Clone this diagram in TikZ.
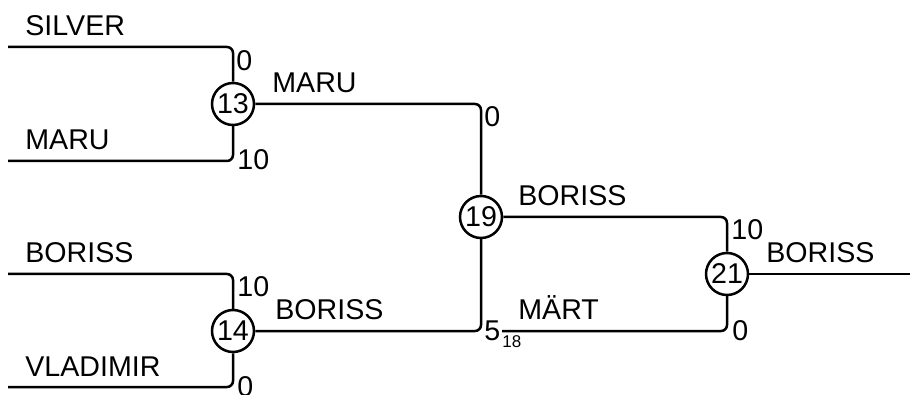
\documentclass[tikz,border=0pt]{standalone}
\usepackage{fontspec}
\setmainfont{Liberation Sans}
\usetikzlibrary{positioning}

\begin{document}
\begin{tikzpicture}[
  x=0.5pt, y=-0.5pt,
  font=\fontsize{14.3}{17}\selectfont,
  match/.style={draw, circle, line width=1.25pt, minimum size=21pt, inner sep=0pt},
  player/.style={anchor=base west, inner sep=0pt},
  score/.style={inner sep=0pt},
  small/.style={score, font=\fontsize{8.5}{10}\selectfont},
  link/.style={line width=1.25pt, rounded corners=3pt}
]
\useasboundingbox (0,0) rectangle (910,395);
% matches
\node[match] (m13) at (233,104) {13};
\node[match] (m14) at (233,331) {14};
\node[match] (m19) at (481,217) {19};
\node[match] (m21) at (727,274) {21};
% free line ends
\coordinate (p1) at (8,47);
\coordinate (p2) at (8,161);
\coordinate (p3) at (8,274);
\coordinate (p4) at (8,387);
\coordinate (p18) at (502,331);
\coordinate (out) at (910,274);
% players
\node[player] (silver) at (25,36) {SILVER};
\node[player] (maru) at (25,150) {MARU};
\node[player] (boriss) at (25,263) {BORISS};
\node[player] (vladimir) at (25,376) {VLADIMIR};
% winners
\node[player] (w13) at (272,93) {MARU};
\node[player] (w14) at (275,320) {BORISS};
\node[player] (w19) at (518,206) {BORISS};
\node[player] (w18) at (518,320) {MÄRT};
\node[player] (w21) at (766,263) {BORISS};
% scores
\node[score, anchor=north west] (s13a) at (236,50) {0};
\node[score, anchor=west] (s13b) at (237,160) {10};
\node[score, anchor=north west] (s14a) at (237,276) {10};
\node[score, anchor=west] (s14b) at (237,387) {0};
\node[score, anchor=north west] (s19a) at (484,106) {0};
\node[score, anchor=west] (s19b) at (484,331) {5};
\node[small, anchor=north west] (m18) at (502,335) {18};
\node[score, anchor=north west] (s21a) at (731,219) {10};
\node[score, anchor=west] (s21b) at (732,331) {0};
% bracket lines
\draw[link] (p1) -| (m13.north);
\draw[link] (p2) -| (m13.south);
\draw[link] (p3) -| (m14.north);
\draw[link] (p4) -| (m14.south);
\draw[link] (m13.east) -| (m19.north);
\draw[link] (m14.east) -| (m19.south);
\draw[link] (m19.east) -| (m21.north);
\draw[link] (p18) -| (m21.south);
\draw[link] (m21.east) -- (out);
\end{tikzpicture}
\end{document}
